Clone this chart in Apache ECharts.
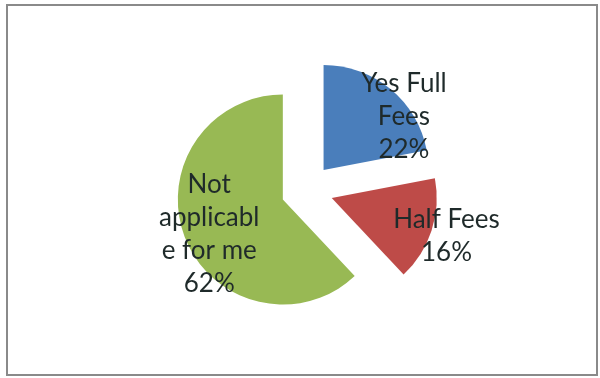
<!DOCTYPE html>
<html>
<head>
<meta charset="utf-8">
<script src="https://cdn.jsdelivr.net/npm/echarts@6/dist/echarts.min.js"></script>
<style>
  html, body { margin: 0; padding: 0; background: #fff; }
  #chart { width: 600px; height: 378px; }
</style>
</head>
<body>
<div id="chart"></div>
<script>
const categories = ["Yes Full Fees", "Half Fees", "Not applicable for me"];
const values = [22, 16, 62];
const labelTexts = ["Yes Full\nFees\n22%", "Half Fees\n16%", "Not\napplicabl\ne for me\n62%"];
const colors = ["#4a7ebb", "#be4b48", "#98b954"];
const labelShifts = [[45, -11], [62, 21], [-22, 14]];

const chart = echarts.init(document.getElementById('chart'), null, { renderer: 'canvas' });

const data = categories.map((name, i) => ({
  name: name,
  value: values[i],
  selected: true,
  itemStyle: { color: colors[i] },
  label: { formatter: labelTexts[i] }
}));

chart.setOption({
  animation: false,
  backgroundColor: '#ffffff',
  graphic: [{
    type: 'rect',
    shape: { x: 7, y: 5, width: 590, height: 370 },
    style: { fill: 'none', stroke: '#8a8a8a', lineWidth: 2 },
    silent: true
  }],
  series: [{
    type: 'pie',
    center: [307, 190],
    radius: [0, 105],
    startAngle: 90,
    clockwise: true,
    selectedMode: 'multiple',
    selectedOffset: 26,
    data: data,
    label: {
      show: true,
      position: 'inside',
      color: '#1f2a2a',
      fontFamily: 'Lato, "Open Sans", sans-serif',
      fontSize: 26,
      lineHeight: 33,
      align: 'center'
    },
    labelLayout: function (params) {
      const s = labelShifts[params.dataIndex];
      return { dx: s[0], dy: s[1] };
    },
    labelLine: { show: false },
    emphasis: { disabled: true },
    itemStyle: { borderWidth: 0 }
  }]
});
</script>
</body>
</html>
